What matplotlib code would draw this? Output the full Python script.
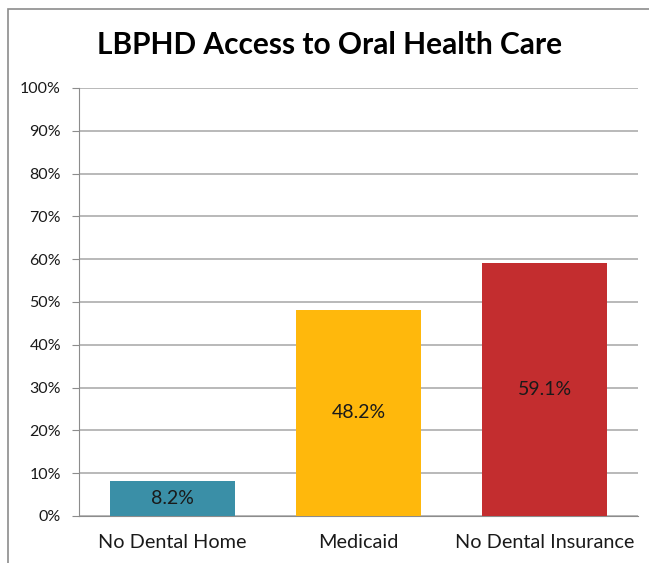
import matplotlib.pyplot as plt
from matplotlib.patches import Rectangle
from matplotlib.ticker import PercentFormatter

categories = ['No Dental Home', 'Medicaid', 'No Dental Insurance']
values = [8.2, 48.2, 59.1]
colors = ['#3A8FA7', '#FFB80C', '#C32D2F']

plt.rcParams['font.family'] = ['Lato', 'DejaVu Sans']

fig = plt.figure(figsize=(6.49, 5.63), dpi=100)
ax = fig.add_axes([0.1217, 0.0835, 0.8613, 0.7602])

# outer chart border (cut off on right and bottom like the screenshot)
fig.patches.append(Rectangle((8 / 649, -0.1), 1.2, 1 - 9 / 563 + 0.1,
                             transform=fig.transFigure, fill=False,
                             edgecolor='#8C8C8C', linewidth=1.2))

x = range(len(categories))
bars = ax.bar(x, values, width=0.67, color=colors, zorder=3)
for b, v in zip(bars, values):
    ax.text(b.get_x() + b.get_width() / 2, v / 2, f'{v}%', ha='center',
            va='center', fontsize=14, color='#1a1a1a', zorder=4)

ax.set_xlim(-0.5, 2.5)
ax.set_ylim(0, 100)
ax.set_yticks(range(0, 101, 10))
ax.yaxis.set_major_formatter(PercentFormatter(decimals=0))
ax.set_xticks(list(x))
ax.set_xticklabels(categories, fontsize=14.3)
ax.grid(axis='y', color='#A6A6A6', linewidth=1.1, zorder=0)

for s in ['top', 'right']:
    ax.spines[s].set_visible(False)
ax.spines['left'].set_color('#8C8C8C')
ax.spines['bottom'].set_color('#8C8C8C')
ax.tick_params(axis='y', length=5, color='#8C8C8C', labelsize=11.5, pad=8,
               labelcolor='#1a1a1a')
ax.tick_params(axis='x', length=0, pad=13, labelcolor='#1a1a1a')

fig.text(0.508, 0.92, 'LBPHD Access to Oral Health Care', ha='center',
         va='center', fontsize=21.5, fontweight='bold', color='black')

fig.savefig('out.png', dpi=100)
